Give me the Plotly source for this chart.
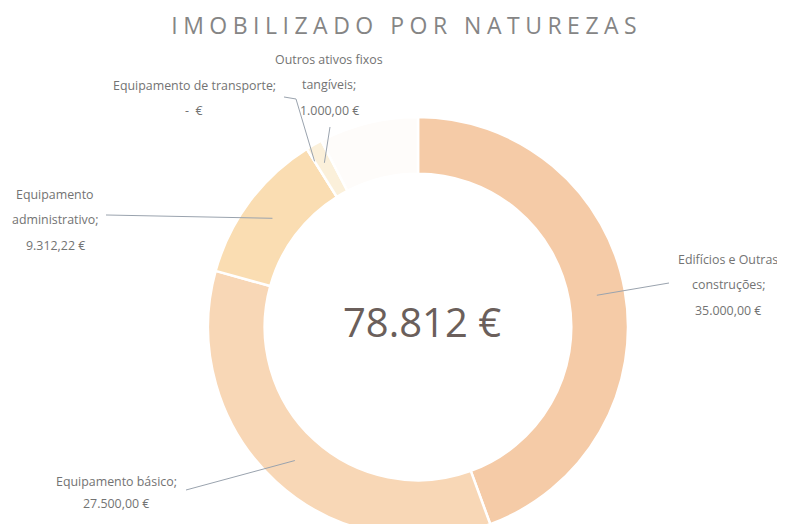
import math
import plotly.graph_objects as go

# ---- data ----
categories = ["Edifícios e Outras construções", "Equipamento básico",
              "Equipamento administrativo", "Equipamento de transporte",
              "Outros ativos fixos tangíveis", ""]
values = [35000.00, 27500.00, 9312.22, 0.0, 1000.00, 6000.00]
value_labels = ["35.000,00 €", "27.500,00 €", "9.312,22 €", "-  €", "1.000,00 €", ""]
total_label = "78.812 €"
title_text = "IMOBILIZADO POR NATUREZAS"
colors = ["#F5CBA7", "#F8D7B6", "#FADDB2", "#F3E3C8", "#FBF0DA", "#FEFCFA"]

# ---- layout geometry (page pixels; the page body adds an 8px offset) ----
OFF = 8
FW, FH = 785 - OFF, 529
MT, MB = 109, 0
plot_h = FH - MT - MB
R = plot_h / 2
CXP, CYP = 418, OFF + MT + R          # ring centre in page pixels
HOLE = 0.73
RMID = R * (1 + HOLE) / 2


def px(x):
    return (x - OFF) / FW


def py(y):
    return (FH - MB - (y - OFF)) / plot_h


total = sum(values)
cum = []
acc = 0
for v in values:
    cum.append((acc, acc + v))
    acc += v


def ring_point(frac, r=RMID):
    a = 2 * math.pi * frac
    return CXP + r * math.sin(a), CYP - r * math.cos(a)


cxf = CXP - OFF
fig = go.Figure(go.Pie(
    labels=[c if c else " " for c in categories],
    values=values,
    sort=False,
    direction="clockwise",
    rotation=0,
    hole=HOLE,
    textinfo="none",
    hoverinfo="label+value",
    marker=dict(colors=colors, line=dict(color="white", width=2.5)),
    domain=dict(x=[(cxf - R) / FW, (cxf + R) / FW], y=[0, 1]),
    showlegend=False,
))

line_color = "#9AA3AE"
label_font = dict(family="Open Sans", size=12.4, color="#737373")
annotations = []
shapes = []


def add_lines(lines, cx, y0, dy=25.5):
    for i, t in enumerate(lines):
        annotations.append(dict(x=px(cx), y=py(y0 + i * dy), xref="paper", yref="paper",
                                text=t, showarrow=False, font=label_font,
                                xanchor="center", yanchor="middle"))


def add_leader(points):
    path = "M " + " L ".join(f"{px(x):.5f},{py(y):.5f}" for x, y in points)
    shapes.append(dict(type="path", path=path, xref="paper", yref="paper",
                       line=dict(color=line_color, width=1)))


# Edifícios
mid = (cum[0][0] + cum[0][1]) / 2 / total
add_lines(["Edifícios e Outras", "construções;", value_labels[0]], 728, 259)
add_leader([(669, 283), ring_point(mid)])

# Equipamento básico
mid = (cum[1][0] + cum[1][1]) / 2 / total
add_lines(["Equipamento básico;", value_labels[1]], 116, 481, dy=22)
add_leader([(186, 490), ring_point(mid)])

# Equipamento administrativo
mid = (cum[2][0] + cum[2][1]) / 2 / total
add_lines(["Equipamento", "administrativo;", value_labels[2]], 55, 194)
add_leader([(106, 215), ring_point(mid)])

# Equipamento de transporte
mid = (cum[3][0] + cum[3][1]) / 2 / total
add_lines(["Equipamento de transporte;", value_labels[3]], 194, 85)
add_leader([(284, 97), (296, 99), ring_point(mid, R * 0.93)])

# Outros ativos fixos tangíveis
mid = (cum[4][0] + cum[4][1]) / 2 / total
add_lines(["Outros ativos fixos", "tangíveis;", value_labels[4]], 329, 59)
add_leader([(330, 127), ring_point(mid, R * 0.9)])

# centre total
annotations.append(dict(x=px(422), y=py(321), xref="paper", yref="paper",
                        text=total_label, showarrow=False,
                        font=dict(family="Open Sans", size=40, color="#6B5F5B"),
                        xanchor="center", yanchor="middle"))

# title
annotations.append(dict(x=px(406), y=py(25), xref="paper", yref="paper",
                        text=title_text, showarrow=False,
                        font=dict(family="Open Sans", size=23, color="#858585"),
                        xanchor="center", yanchor="middle"))

fig.update_layout(
    width=FW, height=FH,
    margin=dict(l=0, r=0, t=MT, b=MB),
    paper_bgcolor="white",
    plot_bgcolor="white",
    annotations=annotations,
    shapes=shapes,
)

post = """
var gd = document.getElementById('{plot_id}');
function spaceTitle() {
  gd.querySelectorAll('text').forEach(function (t) {
    if (t.textContent === '%s') { t.style.letterSpacing = '5.5px'; }
  });
}
spaceTitle();
gd.on('plotly_afterplot', spaceTitle);
""" % title_text

fig.write_html("out.html", post_script=post)
